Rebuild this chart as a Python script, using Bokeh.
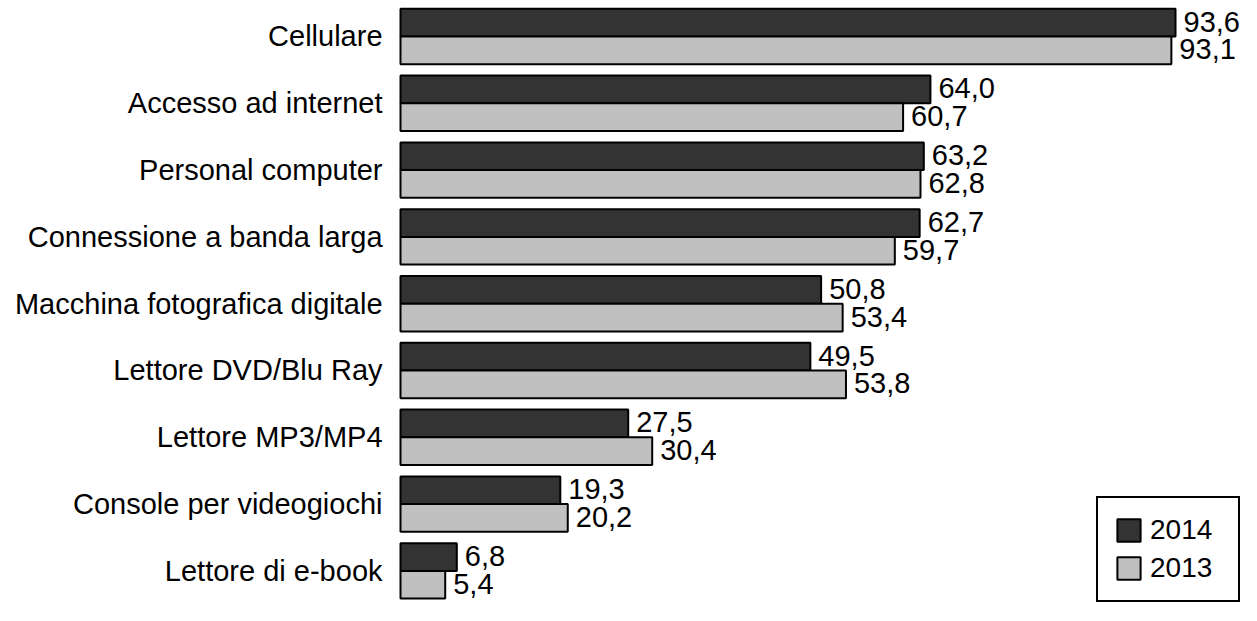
from bokeh.plotting import figure
from bokeh.models import Range1d, ColumnDataSource, Legend, LegendItem
from bokeh.core.properties import value
from bokeh.embed import file_html
from bokeh.resources import INLINE

categories = ["Cellulare", "Accesso ad internet", "Personal computer",
              "Connessione a banda larga", "Macchina fotografica digitale",
              "Lettore DVD/Blu Ray", "Lettore MP3/MP4",
              "Console per videogiochi", "Lettore di e-book"]
values_2014 = [93.6, 64.0, 63.2, 62.7, 50.8, 49.5, 27.5, 19.3, 6.8]
values_2013 = [93.1, 60.7, 62.8, 59.7, 53.4, 53.8, 30.4, 20.2, 5.4]
series_names = ["2014", "2013"]

FONT = "Liberation Sans"
FS = "29px"
BAR_H = 0.415
idx = list(range(len(categories)))

def fmt(v):
    return f"{v:.1f}".replace(".", ",")

src14 = ColumnDataSource(dict(y=[i - BAR_H / 2 for i in idx], v=values_2014,
                              lab=[fmt(v) for v in values_2014]))
src13 = ColumnDataSource(dict(y=[i + BAR_H / 2 for i in idx], v=values_2013,
                              lab=[fmt(v) for v in values_2013]))
srccat = ColumnDataSource(dict(y=idx, x=[0] * len(idx), name=categories))

p = figure(width=1241, height=605, output_backend="svg", toolbar_location=None,
           x_range=Range1d(-48.31, 101.57), y_range=Range1d(8.518, -0.5389),
           min_border=0)
p.axis.visible = False
p.grid.visible = False
p.outline_line_color = None
p.background_fill_color = "white"

r14 = p.hbar(y="y", right="v", left=0, height=BAR_H, source=src14,
             fill_color="#333333", line_color="black", line_width=2)
r13 = p.hbar(y="y", right="v", left=0, height=BAR_H, source=src13,
             fill_color="#c0c0c0", line_color="black", line_width=2)

for s in (src14, src13):
    p.text(x="v", y="y", text="lab", source=s, x_offset=8, y_offset=-1,
           text_font=value(FONT), text_font_size=FS, text_color="black",
           text_baseline="middle", text_align="left")

p.text(x="x", y="y", text="name", source=srccat, x_offset=-18,
       text_font=value(FONT), text_font_size=FS, text_color="black",
       text_baseline="middle", text_align="right")

legend = Legend(items=[LegendItem(label=series_names[0], renderers=[r14]),
                       LegendItem(label=series_names[1], renderers=[r13])],
                location=(1096, 3), orientation="vertical",
                glyph_width=29, glyph_height=28, label_standoff=7,
                label_width=72,
                label_text_font=FONT, label_text_font_size="28px",
                label_text_color="black",
                padding=16, spacing=6, margin=0,
                border_line_color="black", border_line_width=2,
                border_line_alpha=1,
                background_fill_color="white", background_fill_alpha=1)
p.add_layout(legend)

open("out.html", "w").write(file_html(p, INLINE))
